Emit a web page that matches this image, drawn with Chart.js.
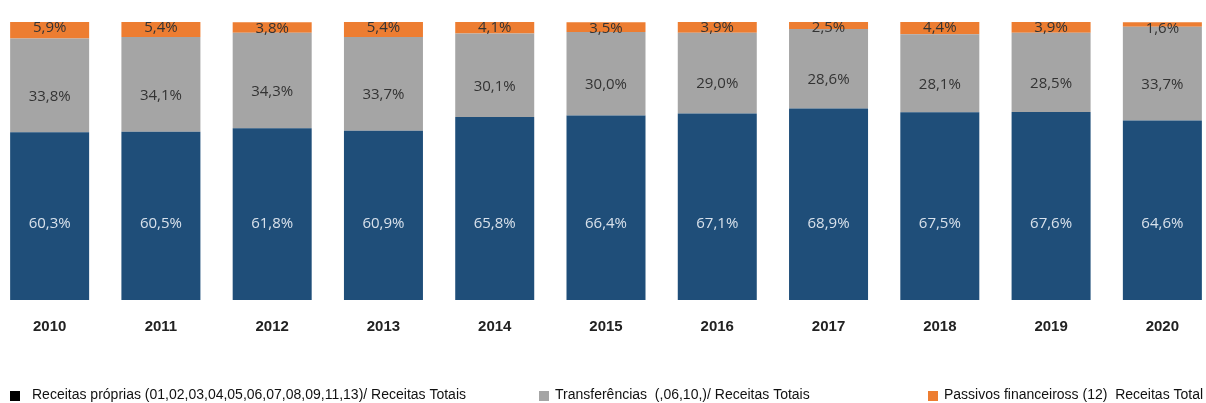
<!DOCTYPE html>
<html>
<head>
<meta charset="utf-8">
<script src="https://cdn.jsdelivr.net/npm/chart.js@4/dist/chart.umd.min.js"></script>
<style>
  html, body { margin: 0; background: #fff; overflow: hidden; }
  #wrap { width: 1224px; height: 403px; position: relative; margin-left: -6px; }
</style>
</head>
<body>
<div id="wrap"><canvas id="receitasChart"></canvas></div>
<script>
var anos = ["2010", "2011", "2012", "2013", "2014", "2015", "2016", "2017", "2018", "2019", "2020"];
var receitasProprias = [60.3, 60.5, 61.8, 60.9, 65.8, 66.4, 67.1, 68.9, 67.5, 67.6, 64.6];
var transferencias = [33.8, 34.1, 34.3, 33.7, 30.1, 30.0, 29.0, 28.6, 28.1, 28.5, 33.7];
var passivos = [5.9, 5.4, 3.8, 5.4, 4.1, 3.5, 3.9, 2.5, 4.4, 3.9, 1.6];

var nomes = [
    "Receitas próprias (01,02,03,04,05,06,07,08,09,11,13)/ Receitas Totais",
    "Transferências  (,06,10,)/ Receitas Totais",
    "Passivos financeiross (12)  Receitas Total"
];
var cores = ["#1F4E79", "#A5A5A5", "#ED7D31"];
var coresLegenda = ["#000000", "#A5A5A5", "#ED7D31"];

// rótulos de percentagem dentro das barras
var rotulos = {
    id: 'rotulos',
    afterDatasetsDraw: function(chart) {
        var ctx = chart.ctx;
        ctx.save();
        ctx.font = '15px "Open Sans"';
        ctx.textAlign = 'center';
        ctx.textBaseline = 'middle';
        chart.data.datasets.forEach(function(ds, i) {
            var meta = chart.getDatasetMeta(i);
            meta.data.forEach(function(bar, j) {
                var txt = ds.data[j].toFixed(1).replace('.', ',') + '%';
                var y;
                if (i === 0) y = bar.base - 76;
                else if (i === 1) y = (bar.y + bar.base) / 2 + 11;
                else y = bar.y + 6;
                ctx.fillStyle = i === 0 ? '#d8e1eb' : '#333333';
                ctx.fillText(txt, bar.x, y);
            });
        });
        ctx.restore();
    }
};

// legenda em baixo, com as posições do original
var legenda = {
    id: 'legenda',
    afterDraw: function(chart) {
        var ctx = chart.ctx;
        var xs = [16, 545, 934];
        var y = 395;
        ctx.save();
        ctx.font = '14px "Liberation Sans", Arial';
        ctx.textBaseline = 'middle';
        ctx.textAlign = 'left';
        chart.data.datasets.forEach(function(ds, i) {
            ctx.fillStyle = coresLegenda[i];
            ctx.fillRect(xs[i], y - 4, 10, 10);
            ctx.fillStyle = '#111';
            ctx.fillText(ds.label, xs[i] + (i === 0 ? 22 : 16), y);
        });
        ctx.restore();
    }
};

var ctx = document.getElementById("receitasChart");

var grafico = new Chart(ctx, {
    type: 'bar',
    data: {
        labels: anos,
        datasets: [
            { label: nomes[0], data: receitasProprias, backgroundColor: cores[0] },
            { label: nomes[1], data: transferencias, backgroundColor: cores[1] },
            { label: nomes[2], data: passivos, backgroundColor: cores[2] }
        ]
    },
    options: {
        responsive: true,
        maintainAspectRatio: false,
        animation: false,
        categoryPercentage: 1,
        barPercentage: 0.71,
        layout: { padding: { left: 0, right: 0, top: 22, bottom: 57 } },
        scales: {
            x: {
                stacked: true,
                grid: { display: false },
                border: { display: false },
                ticks: {
                    color: '#222',
                    padding: 10,
                    font: { family: '"Liberation Sans", Arial', size: 15, weight: 'bold' }
                }
            },
            y: { stacked: true, display: false, min: 0, max: 100 }
        },
        plugins: {
            tooltip: { enabled: false },
            legend: { display: false }
        }
    },
    plugins: [rotulos, legenda]
});
</script>
</body>
</html>
